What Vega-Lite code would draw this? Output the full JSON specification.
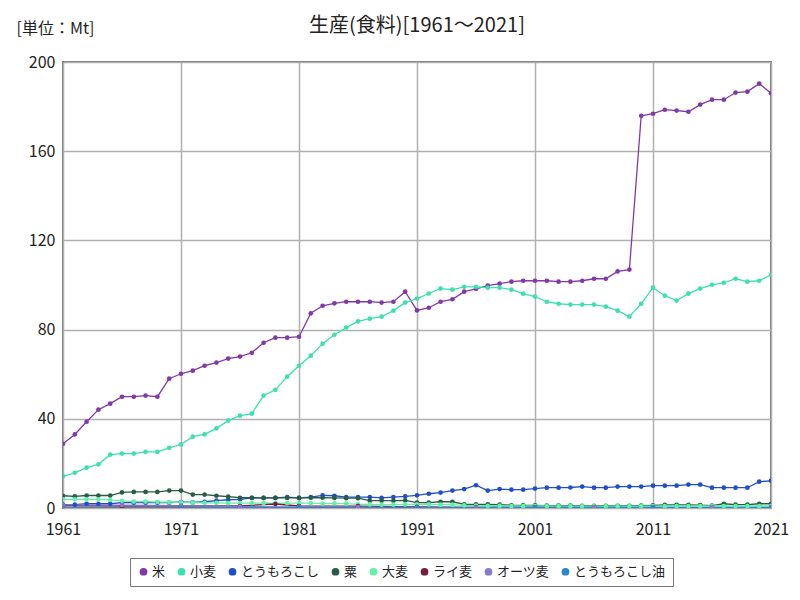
{
  "$schema": "https://vega.github.io/schema/vega-lite/v6.json",
  "width": 708,
  "height": 446,
  "autosize": "none",
  "padding": {"left": 63, "top": 62, "right": 29, "bottom": 92},
  "background": "white",
  "title": {"text": "生産(食料)[1961～2021]", "fontSize": 20, "font": "Noto Sans CJK JP", "fontWeight": "normal", "color": "#222", "anchor": "middle", "offset": -16},
  "config": {
    "font": "Noto Sans CJK JP",
    "view": {"stroke": "#777", "strokeWidth": 2},
    "axis": {"gridColor": "#b0b0b0", "gridWidth": 1.5, "domain": false, "ticks": false, "labelFontSize": 16, "labelColor": "#222", "labelFont": "Noto Sans CJK JP"}
  },
  "datasets": {
    "d": [
      {"year":1961,"s":"米","v":28.8},{"year":1962,"s":"米","v":33},{"year":1963,"s":"米","v":38.7},{"year":1964,"s":"米","v":44.1},{"year":1965,"s":"米","v":46.8},{"year":1966,"s":"米","v":49.9},{"year":1967,"s":"米","v":49.9},{"year":1968,"s":"米","v":50.4},{"year":1969,"s":"米","v":49.9},{"year":1970,"s":"米","v":58},
      {"year":1971,"s":"米","v":60.2},{"year":1972,"s":"米","v":61.6},{"year":1973,"s":"米","v":63.8},{"year":1974,"s":"米","v":65.2},{"year":1975,"s":"米","v":67},{"year":1976,"s":"米","v":67.9},{"year":1977,"s":"米","v":69.6},{"year":1978,"s":"米","v":74.1},{"year":1979,"s":"米","v":76.4},{"year":1980,"s":"米","v":76.4},
      {"year":1981,"s":"米","v":76.8},{"year":1982,"s":"米","v":87.3},{"year":1983,"s":"米","v":90.7},{"year":1984,"s":"米","v":91.8},{"year":1985,"s":"米","v":92.5},{"year":1986,"s":"米","v":92.5},{"year":1987,"s":"米","v":92.5},{"year":1988,"s":"米","v":92.1},{"year":1989,"s":"米","v":92.5},{"year":1990,"s":"米","v":97},
      {"year":1991,"s":"米","v":88.6},{"year":1992,"s":"米","v":89.8},{"year":1993,"s":"米","v":92.5},{"year":1994,"s":"米","v":93.6},{"year":1995,"s":"米","v":97},{"year":1996,"s":"米","v":98.3},{"year":1997,"s":"米","v":99.7},{"year":1998,"s":"米","v":100.6},{"year":1999,"s":"米","v":101.5},{"year":2000,"s":"米","v":101.9},
      {"year":2001,"s":"米","v":101.9},{"year":2002,"s":"米","v":101.9},{"year":2003,"s":"米","v":101.5},{"year":2004,"s":"米","v":101.5},{"year":2005,"s":"米","v":101.9},{"year":2006,"s":"米","v":102.8},{"year":2007,"s":"米","v":102.8},{"year":2008,"s":"米","v":106.1},{"year":2009,"s":"米","v":106.9},{"year":2010,"s":"米","v":175.9},
      {"year":2011,"s":"米","v":176.8},{"year":2012,"s":"米","v":178.6},{"year":2013,"s":"米","v":178.2},{"year":2014,"s":"米","v":177.7},{"year":2015,"s":"米","v":180.9},{"year":2016,"s":"米","v":183.1},{"year":2017,"s":"米","v":183.1},{"year":2018,"s":"米","v":186.3},{"year":2019,"s":"米","v":186.7},{"year":2020,"s":"米","v":190.3},{"year":2021,"s":"米","v":186},

      {"year":1961,"s":"小麦","v":14.2},{"year":1962,"s":"小麦","v":15.8},{"year":1963,"s":"小麦","v":18.1},{"year":1964,"s":"小麦","v":19.6},{"year":1965,"s":"小麦","v":23.9},{"year":1966,"s":"小麦","v":24.4},{"year":1967,"s":"小麦","v":24.4},{"year":1968,"s":"小麦","v":25.2},{"year":1969,"s":"小麦","v":25.2},{"year":1970,"s":"小麦","v":27},
      {"year":1971,"s":"小麦","v":28.5},{"year":1972,"s":"小麦","v":32},{"year":1973,"s":"小麦","v":33},{"year":1974,"s":"小麦","v":35.7},{"year":1975,"s":"小麦","v":39.2},{"year":1976,"s":"小麦","v":41.4},{"year":1977,"s":"小麦","v":42.3},{"year":1978,"s":"小麦","v":50.4},{"year":1979,"s":"小麦","v":53},{"year":1980,"s":"小麦","v":58.9},
      {"year":1981,"s":"小麦","v":63.8},{"year":1982,"s":"小麦","v":68.3},{"year":1983,"s":"小麦","v":73.7},{"year":1984,"s":"小麦","v":77.7},{"year":1985,"s":"小麦","v":80.9},{"year":1986,"s":"小麦","v":83.7},{"year":1987,"s":"小麦","v":84.9},{"year":1988,"s":"小麦","v":85.8},{"year":1989,"s":"小麦","v":88.5},{"year":1990,"s":"小麦","v":92.1},
      {"year":1991,"s":"小麦","v":93.9},{"year":1992,"s":"小麦","v":96.2},{"year":1993,"s":"小麦","v":98.4},{"year":1994,"s":"小麦","v":97.9},{"year":1995,"s":"小麦","v":99.2},{"year":1996,"s":"小麦","v":99.2},{"year":1997,"s":"小麦","v":98.8},{"year":1998,"s":"小麦","v":98.8},{"year":1999,"s":"小麦","v":97.9},{"year":2000,"s":"小麦","v":96.1},
      {"year":2001,"s":"小麦","v":94.8},{"year":2002,"s":"小麦","v":92.5},{"year":2003,"s":"小麦","v":91.6},{"year":2004,"s":"小麦","v":91.2},{"year":2005,"s":"小麦","v":91.2},{"year":2006,"s":"小麦","v":91.2},{"year":2007,"s":"小麦","v":90.3},{"year":2008,"s":"小麦","v":88.5},{"year":2009,"s":"小麦","v":85.8},{"year":2010,"s":"小麦","v":91.6},
      {"year":2011,"s":"小麦","v":98.8},{"year":2012,"s":"小麦","v":95.2},{"year":2013,"s":"小麦","v":93},{"year":2014,"s":"小麦","v":96.1},{"year":2015,"s":"小麦","v":98.4},{"year":2016,"s":"小麦","v":100.1},{"year":2017,"s":"小麦","v":101},{"year":2018,"s":"小麦","v":102.8},{"year":2019,"s":"小麦","v":101.5},{"year":2020,"s":"小麦","v":101.9},{"year":2021,"s":"小麦","v":104.6},

      {"year":1961,"s":"とうもろこし","v":1.5},{"year":1962,"s":"とうもろこし","v":1.5},{"year":1963,"s":"とうもろこし","v":1.9},{"year":1964,"s":"とうもろこし","v":1.9},{"year":1965,"s":"とうもろこし","v":1.9},{"year":1966,"s":"とうもろこし","v":2.4},{"year":1967,"s":"とうもろこし","v":2.4},{"year":1968,"s":"とうもろこし","v":2.4},{"year":1969,"s":"とうもろこし","v":2.4},{"year":1970,"s":"とうもろこし","v":2.4},
      {"year":1971,"s":"とうもろこし","v":2.7},{"year":1972,"s":"とうもろこし","v":2.5},{"year":1973,"s":"とうもろこし","v":2.8},{"year":1974,"s":"とうもろこし","v":3.3},{"year":1975,"s":"とうもろこし","v":3.7},{"year":1976,"s":"とうもろこし","v":3.9},{"year":1977,"s":"とうもろこし","v":4.5},{"year":1978,"s":"とうもろこし","v":4.5},{"year":1979,"s":"とうもろこし","v":4.5},{"year":1980,"s":"とうもろこし","v":4.9},
      {"year":1981,"s":"とうもろこし","v":4.5},{"year":1982,"s":"とうもろこし","v":4.9},{"year":1983,"s":"とうもろこし","v":5.7},{"year":1984,"s":"とうもろこし","v":5.5},{"year":1985,"s":"とうもろこし","v":4.9},{"year":1986,"s":"とうもろこし","v":4.9},{"year":1987,"s":"とうもろこし","v":4.9},{"year":1988,"s":"とうもろこし","v":4.5},{"year":1989,"s":"とうもろこし","v":4.9},{"year":1990,"s":"とうもろこし","v":5.2},
      {"year":1991,"s":"とうもろこし","v":5.7},{"year":1992,"s":"とうもろこし","v":6.4},{"year":1993,"s":"とうもろこし","v":6.9},{"year":1994,"s":"とうもろこし","v":7.8},{"year":1995,"s":"とうもろこし","v":8.5},{"year":1996,"s":"とうもろこし","v":10.2},{"year":1997,"s":"とうもろこし","v":7.8},{"year":1998,"s":"とうもろこし","v":8.5},{"year":1999,"s":"とうもろこし","v":8.2},{"year":2000,"s":"とうもろこし","v":8.2},
      {"year":2001,"s":"とうもろこし","v":8.7},{"year":2002,"s":"とうもろこし","v":9.1},{"year":2003,"s":"とうもろこし","v":9.1},{"year":2004,"s":"とうもろこし","v":9.2},{"year":2005,"s":"とうもろこし","v":9.6},{"year":2006,"s":"とうもろこし","v":9.1},{"year":2007,"s":"とうもろこし","v":9.1},{"year":2008,"s":"とうもろこし","v":9.6},{"year":2009,"s":"とうもろこし","v":9.6},{"year":2010,"s":"とうもろこし","v":9.6},
      {"year":2011,"s":"とうもろこし","v":10},{"year":2012,"s":"とうもろこし","v":10},{"year":2013,"s":"とうもろこし","v":10},{"year":2014,"s":"とうもろこし","v":10.5},{"year":2015,"s":"とうもろこし","v":10.5},{"year":2016,"s":"とうもろこし","v":9.1},{"year":2017,"s":"とうもろこし","v":9.1},{"year":2018,"s":"とうもろこし","v":9.1},{"year":2019,"s":"とうもろこし","v":9.1},{"year":2020,"s":"とうもろこし","v":11.8},{"year":2021,"s":"とうもろこし","v":12.2},

      {"year":1961,"s":"粟","v":5.5},{"year":1962,"s":"粟","v":5.2},{"year":1963,"s":"粟","v":5.6},{"year":1964,"s":"粟","v":5.6},{"year":1965,"s":"粟","v":5.6},{"year":1966,"s":"粟","v":7.0},{"year":1967,"s":"粟","v":7.2},{"year":1968,"s":"粟","v":7.2},{"year":1969,"s":"粟","v":7.2},{"year":1970,"s":"粟","v":7.8},
      {"year":1971,"s":"粟","v":7.8},{"year":1972,"s":"粟","v":6.0},{"year":1973,"s":"粟","v":6.0},{"year":1974,"s":"粟","v":5.5},{"year":1975,"s":"粟","v":5.1},{"year":1976,"s":"粟","v":4.6},{"year":1977,"s":"粟","v":4.6},{"year":1978,"s":"粟","v":4.5},{"year":1979,"s":"粟","v":4.5},{"year":1980,"s":"粟","v":4.5},
      {"year":1981,"s":"粟","v":4.5},{"year":1982,"s":"粟","v":4.6},{"year":1983,"s":"粟","v":4.6},{"year":1984,"s":"粟","v":4.5},{"year":1985,"s":"粟","v":4.4},{"year":1986,"s":"粟","v":4.4},{"year":1987,"s":"粟","v":3.3},{"year":1988,"s":"粟","v":3.3},{"year":1989,"s":"粟","v":3.3},{"year":1990,"s":"粟","v":3.4},
      {"year":1991,"s":"粟","v":2.4},{"year":1992,"s":"粟","v":2.4},{"year":1993,"s":"粟","v":2.8},{"year":1994,"s":"粟","v":2.8},{"year":1995,"s":"粟","v":1.6},{"year":1996,"s":"粟","v":1.6},{"year":1997,"s":"粟","v":1.6},{"year":1998,"s":"粟","v":1.5},{"year":1999,"s":"粟","v":1.2},{"year":2000,"s":"粟","v":1.2},
      {"year":2001,"s":"粟","v":1.2},{"year":2002,"s":"粟","v":1.1},{"year":2003,"s":"粟","v":1.1},{"year":2004,"s":"粟","v":1.1},{"year":2005,"s":"粟","v":1.0},{"year":2006,"s":"粟","v":1.0},{"year":2007,"s":"粟","v":1.0},{"year":2008,"s":"粟","v":1.0},{"year":2009,"s":"粟","v":1.0},{"year":2010,"s":"粟","v":1.1},
      {"year":2011,"s":"粟","v":1.2},{"year":2012,"s":"粟","v":1.4},{"year":2013,"s":"粟","v":1.4},{"year":2014,"s":"粟","v":1.4},{"year":2015,"s":"粟","v":1.3},{"year":2016,"s":"粟","v":1.1},{"year":2017,"s":"粟","v":1.9},{"year":2018,"s":"粟","v":1.5},{"year":2019,"s":"粟","v":1.5},{"year":2020,"s":"粟","v":1.9},{"year":2021,"s":"粟","v":1.9},

      {"year":1961,"s":"大麦","v":3.9},{"year":1962,"s":"大麦","v":3.9},{"year":1963,"s":"大麦","v":3.9},{"year":1964,"s":"大麦","v":3.9},{"year":1965,"s":"大麦","v":3.6},{"year":1966,"s":"大麦","v":3.2},{"year":1967,"s":"大麦","v":2.9},{"year":1968,"s":"大麦","v":2.9},{"year":1969,"s":"大麦","v":2.7},{"year":1970,"s":"大麦","v":2.6},
      {"year":1971,"s":"大麦","v":2.5},{"year":1972,"s":"大麦","v":2.4},{"year":1973,"s":"大麦","v":2.3},{"year":1974,"s":"大麦","v":2.3},{"year":1975,"s":"大麦","v":2.2},{"year":1976,"s":"大麦","v":2.2},{"year":1977,"s":"大麦","v":2.2},{"year":1978,"s":"大麦","v":2.2},{"year":1979,"s":"大麦","v":2.2},{"year":1980,"s":"大麦","v":2.2},
      {"year":1981,"s":"大麦","v":2.2},{"year":1982,"s":"大麦","v":2.2},{"year":1983,"s":"大麦","v":2.0},{"year":1984,"s":"大麦","v":2.1},{"year":1985,"s":"大麦","v":2.0},{"year":1986,"s":"大麦","v":1.6},{"year":1987,"s":"大麦","v":1.6},{"year":1988,"s":"大麦","v":1.5},{"year":1989,"s":"大麦","v":1.5},{"year":1990,"s":"大麦","v":1.6},
      {"year":1991,"s":"大麦","v":1.6},{"year":1992,"s":"大麦","v":1.6},{"year":1993,"s":"大麦","v":1.5},{"year":1994,"s":"大麦","v":1.5},{"year":1995,"s":"大麦","v":1.2},{"year":1996,"s":"大麦","v":1.1},{"year":1997,"s":"大麦","v":1.0},{"year":1998,"s":"大麦","v":1.0},{"year":1999,"s":"大麦","v":0.9},{"year":2000,"s":"大麦","v":0.9},
      {"year":2001,"s":"大麦","v":0.9},{"year":2002,"s":"大麦","v":0.9},{"year":2003,"s":"大麦","v":0.8},{"year":2004,"s":"大麦","v":0.8},{"year":2005,"s":"大麦","v":0.8},{"year":2006,"s":"大麦","v":0.8},{"year":2007,"s":"大麦","v":0.8},{"year":2008,"s":"大麦","v":0.8},{"year":2009,"s":"大麦","v":0.8},{"year":2010,"s":"大麦","v":0.8},
      {"year":2011,"s":"大麦","v":0.8},{"year":2012,"s":"大麦","v":0.8},{"year":2013,"s":"大麦","v":0.9},{"year":2014,"s":"大麦","v":0.9},{"year":2015,"s":"大麦","v":0.9},{"year":2016,"s":"大麦","v":0.9},{"year":2017,"s":"大麦","v":0.9},{"year":2018,"s":"大麦","v":0.9},{"year":2019,"s":"大麦","v":0.9},{"year":2020,"s":"大麦","v":0.9},{"year":2021,"s":"大麦","v":0.9},

      {"year":1961,"s":"ライ麦","v":1.0},{"year":1966,"s":"ライ麦","v":0.9},{"year":1971,"s":"ライ麦","v":0.9},{"year":1976,"s":"ライ麦","v":0.9},{"year":1979,"s":"ライ麦","v":1.8},{"year":1981,"s":"ライ麦","v":0.9},{"year":1986,"s":"ライ麦","v":0.8},{"year":1991,"s":"ライ麦","v":0.5},{"year":1996,"s":"ライ麦","v":0.3},{"year":2001,"s":"ライ麦","v":0.3},{"year":2006,"s":"ライ麦","v":0.2},{"year":2011,"s":"ライ麦","v":0.2},{"year":2016,"s":"ライ麦","v":0.2},{"year":2021,"s":"ライ麦","v":0.2},

      {"year":1961,"s":"オーツ麦","v":1.4},{"year":1966,"s":"オーツ麦","v":1.3},{"year":1971,"s":"オーツ麦","v":1.1},{"year":1976,"s":"オーツ麦","v":0.6},{"year":1981,"s":"オーツ麦","v":0.5},{"year":1986,"s":"オーツ麦","v":0.4},{"year":1991,"s":"オーツ麦","v":0.3},{"year":1996,"s":"オーツ麦","v":0.2},{"year":2001,"s":"オーツ麦","v":0.2},{"year":2006,"s":"オーツ麦","v":0.2},{"year":2011,"s":"オーツ麦","v":0.2},{"year":2016,"s":"オーツ麦","v":0.2},{"year":2021,"s":"オーツ麦","v":0.2},

      {"year":1961,"s":"とうもろこし油","v":0.1},{"year":1971,"s":"とうもろこし油","v":0.1},{"year":1981,"s":"とうもろこし油","v":0.2},{"year":1991,"s":"とうもろこし油","v":0.2},{"year":2001,"s":"とうもろこし油","v":0.3},{"year":2011,"s":"とうもろこし油","v":0.3},{"year":2021,"s":"とうもろこし油","v":0.3}
    ]
  },
  "data": {"name": "d"},
  "mark": {"type": "line", "strokeWidth": 1.3, "clip": true, "point": {"filled": true, "size": 22}},
  "encoding": {
    "x": {"field": "year", "type": "quantitative", "scale": {"domain": [1961, 2021], "nice": false, "zero": false},
      "axis": {"values": [1961, 1971, 1981, 1991, 2001, 2011, 2021], "format": "d", "title": null, "labelPadding": 13, "labelFlush": false}},
    "y": {"field": "v", "type": "quantitative", "scale": {"domain": [0, 200], "nice": false},
      "axis": {"values": [0, 40, 80, 120, 160, 200], "title": "[単位：Mt]", "titleAngle": 0, "titleFontSize": 16, "titleFontWeight": "normal", "titleColor": "#222", "titleAlign": "left", "titleBaseline": "middle", "titleX": -47, "titleY": -34, "labelPadding": 8}},
    "color": {"field": "s", "type": "nominal",
      "scale": {"domain": ["米", "小麦", "とうもろこし", "粟", "大麦", "ライ麦", "オーツ麦", "とうもろこし油"],
        "range": ["#8139a8", "#3de0b0", "#1f4fc8", "#285c44", "#62f0a8", "#781c3a", "#8a78cc", "#2a88c8"]},
      "legend": {"title": null, "orient": "none", "legendX": 67, "legendY": 496, "direction": "horizontal", "columns": 8, "symbolType": "circle", "symbolSize": 60, "labelFontSize": 13, "labelColor": "#222", "strokeColor": "#777", "fillColor": "white", "padding": 7, "columnPadding": 9, "labelOffset": 2, "symbolStrokeWidth": 0}}
  }
}
